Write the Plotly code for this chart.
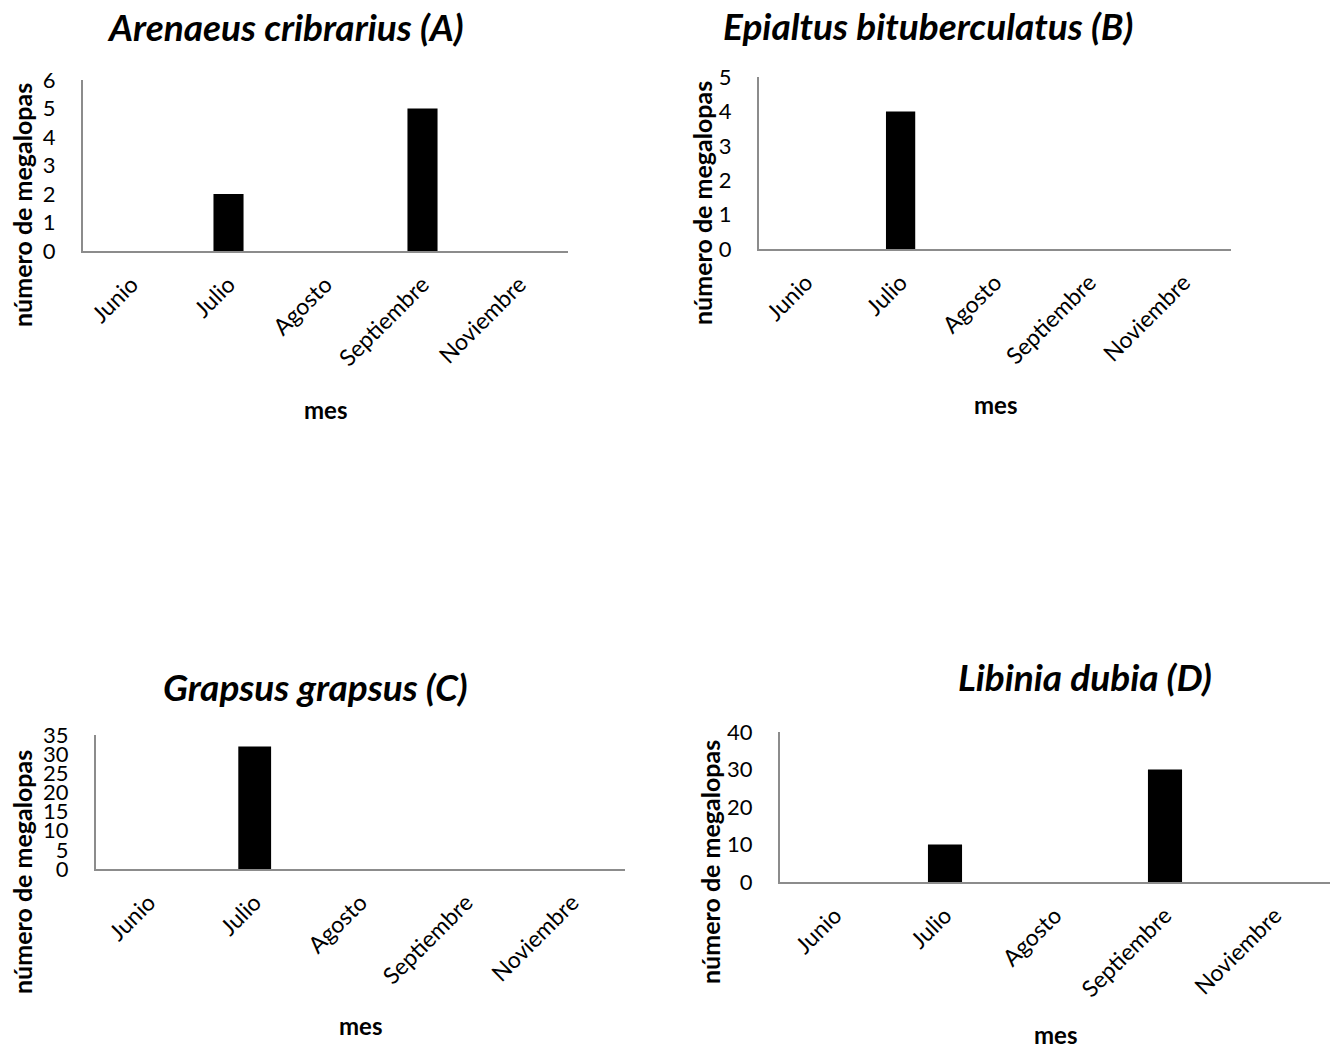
import plotly.graph_objects as go

months = ["Junio", "Julio", "Agosto", "Septiembre", "Noviembre"]
vals_a = [0, 2, 0, 5, 0]
vals_b = [0, 4, 0, 0, 0]
vals_c = [0, 32, 0, 0, 0]
vals_d = [0, 10, 0, 30, 0]
titles = ["Arenaeus cribrarius (A)", "Epialtus bituberculatus (B)", "Grapsus grapsus (C)", "Libinia dubia (D)"]
ytitle = "número de megalopas"
xtitle = "mes"

W, H = 1330, 1050
FONT = "Lato"
AXCOL = "#8c8c8c"

# pixel geometry of each panel: (x0, x1, y_top, y_bottom, ymax, dtick)
panels = [
    (83, 568, 80, 251, 6, 1),
    (759, 1231, 77, 249, 5, 1),
    (96, 625, 735, 869, 35, 5),
    (780, 1330, 732, 882, 40, 10),
]
series = [vals_a, vals_b, vals_c, vals_d]

fig = go.Figure()
for i, (vals, (x0, x1, yt, yb, ymax, dt)) in enumerate(zip(series, panels)):
    n = "" if i == 0 else str(i + 1)
    fig.add_trace(go.Bar(x=months, y=vals, marker=dict(color="black", line=dict(width=0)),
                         xaxis="x" + n, yaxis="y" + n, showlegend=False))
    fig.layout["xaxis" + n] = dict(
        domain=[x0 / W, x1 / W], anchor="y" + n, automargin=False,
        showline=True, linecolor=AXCOL, linewidth=2, showgrid=False, zeroline=False,
        ticks="", tickangle=-45, ticklabelstandoff=9,
        tickfont=dict(family=FONT, size=23, color="black"),
    )
    fig.layout["yaxis" + n] = dict(
        domain=[1 - yb / H, 1 - yt / H], anchor="x" + n, range=[0, ymax], automargin=False,
        tickmode="linear", tick0=0, dtick=dt,
        showline=True, linecolor=AXCOL, linewidth=2, showgrid=False, zeroline=False,
        ticks="", ticklabelstandoff=21,
        tickfont=dict(family=FONT, size=22, color="black"),
    )

# titles: (cx, cy)
title_pos = [(285, 26), (928, 25), (315, 686), (1085, 676)]
for t, (cx, cy) in zip(titles, title_pos):
    fig.add_annotation(text="<b><i>" + t + "</i></b>", x=cx / W, y=1 - cy / H, xref="paper", yref="paper",
                       showarrow=False, xanchor="center", yanchor="middle",
                       font=dict(family=FONT, size=37, color="black"))

# y axis titles
ytitle_pos = [(22, 205), (702, 203), (22, 872), (710, 862)]
for (cx, cy) in ytitle_pos:
    fig.add_annotation(text="<b>" + ytitle + "</b>", x=cx / W, y=1 - cy / H, xref="paper", yref="paper",
                       showarrow=False, xanchor="center", yanchor="middle", textangle=-90,
                       font=dict(family=FONT, size=25, color="black"))

# x axis titles
xtitle_pos = [(325, 410), (995, 405), (360, 1025), (1055, 1034)]
for (cx, cy) in xtitle_pos:
    fig.add_annotation(text="<b>" + xtitle + "</b>", x=cx / W, y=1 - cy / H, xref="paper", yref="paper",
                       showarrow=False, xanchor="center", yanchor="middle",
                       font=dict(family=FONT, size=24, color="black"))

fig.update_layout(width=W, height=H, margin=dict(l=0, r=0, t=0, b=0, autoexpand=False),
                  paper_bgcolor="white", plot_bgcolor="white", bargap=0.69,
                  font=dict(family=FONT))

fig.write_html("out.html")
